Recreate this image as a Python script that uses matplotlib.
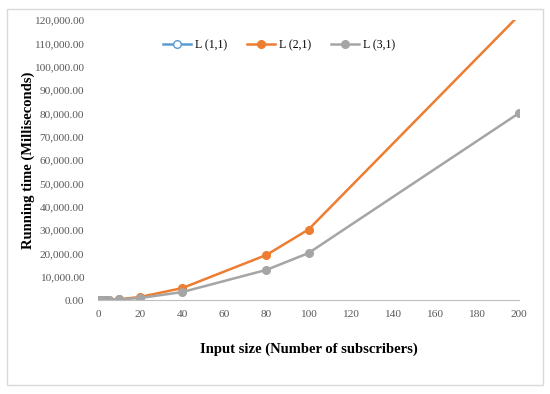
import matplotlib as mpl
mpl.use('Agg')
import matplotlib.pyplot as plt
from matplotlib.patches import Rectangle
from matplotlib.ticker import FuncFormatter

# input sizes and running times (ms)
sizes = [1, 2, 3, 4, 5, 10, 20, 40, 80, 100, 200]
sizes_l11 = [1, 2, 3, 4]
l11 = [2, 4, 6, 8]
l21 = [5, 10, 20, 30, 45, 300, 1300, 5100, 19300, 30200, 122000]
l31 = [4, 8, 15, 25, 35, 250, 850, 3400, 12900, 20100, 80100]

plt.rcParams['font.family'] = ['Liberation Serif', 'DejaVu Serif']

fig = plt.figure(figsize=(5.5, 3.94), dpi=100)
fig.patches.append(Rectangle((7/550, 9/394), 536/550, 376/394, transform=fig.transFigure,
                             fill=False, edgecolor='#d9d9d9', linewidth=1))
ax = fig.add_axes([98/550, 1 - 300/394, 421/550, 280/394])

ax.plot(sizes_l11, l11, color='#5b9bd5', marker='o', markersize=5.5, markerfacecolor='white',
        linewidth=1.8, label='L (1,1)')
ax.plot(sizes, l21, color='#ed7d31', marker='o', markersize=5.5, linewidth=1.8, label='L (2,1)')
ax.plot(sizes, l31, color='#a5a5a5', marker='o', markersize=5.5, linewidth=1.8, label='L (3,1)')

ax.set_xlim(0, 200)
ax.set_ylim(0, 120000)
ax.set_xticks(range(0, 201, 20))
ax.set_yticks(range(0, 120001, 10000))
ax.yaxis.set_major_formatter(FuncFormatter(lambda v, p: '{:,.2f}'.format(v)))
for s in ['top', 'right', 'left']:
    ax.spines[s].set_visible(False)
ax.spines['bottom'].set_color('#bfbfbf')
ax.tick_params(axis='both', length=0, labelsize=8.2, labelcolor='#595959')
ax.tick_params(axis='x', pad=7)
ax.tick_params(axis='y', pad=10)

ax.set_xlabel('Input size (Number of subscribers)', fontsize=10.5, fontweight='bold', labelpad=17)
ax.set_ylabel('Running time (Milliseconds)', fontsize=10.5, fontweight='bold')
ax.yaxis.set_label_coords(-0.15, 0.5)

ax.legend(loc='upper center', bbox_to_anchor=(0.43, 0.97), ncol=3, frameon=False,
          fontsize=8.5, handlelength=2.4, columnspacing=1.7, handletextpad=0.3)

fig.savefig('out.png', dpi=100)
